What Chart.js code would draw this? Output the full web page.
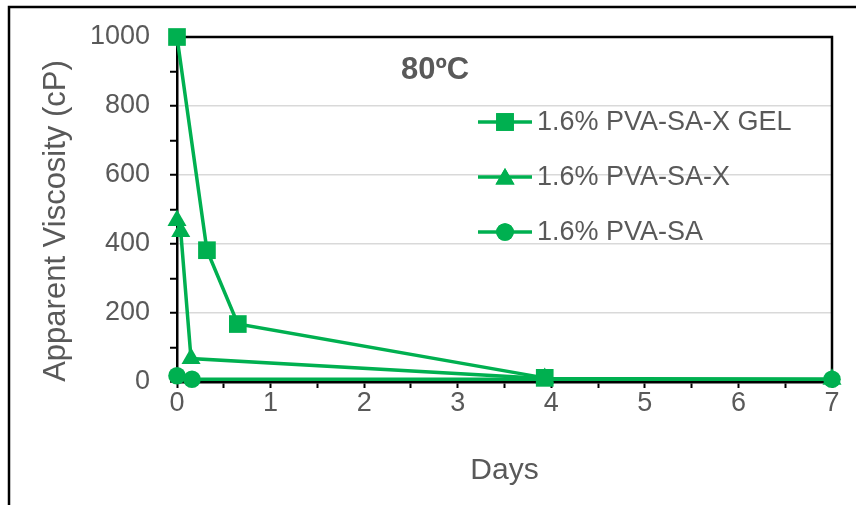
<!DOCTYPE html>
<html>
<head>
<meta charset="utf-8">
<script src="https://cdn.jsdelivr.net/npm/chart.js@4"></script>
<style>
  html, body { margin: 0; padding: 0; background: #fff; }
  #wrap { width: 856px; height: 505px; position: relative; }
</style>
</head>
<body>
<div id="wrap"><canvas id="chart" width="856" height="505"></canvas></div>
<script>
// Viscosity vs. time at 80 C
const gelDays = [0, 0.32, 0.65, 3.93];
const gelVisc = [1000, 382, 168, 12];

const xDays = [0, 0.04, 0.15, 3.93, 7];
const xVisc = [468, 436, 68, 10, 8];

const saDays = [0, 0.16, 7];
const saVisc = [18, 8, 8];

const seriesNames = ['1.6% PVA-SA-X GEL', '1.6% PVA-SA-X', '1.6% PVA-SA'];
const seriesMarkers = ['rect', 'triangle', 'circle'];
const chartTitle = '80ºC';
const yTitle = 'Apparent Viscosity (cP)';

const GREEN = '#00b050';
const TEXT = '#595959';
const FONT = "'Liberation Sans', Arial, sans-serif";

function toPoints(xs, ys) {
  return xs.map((x, i) => ({ x: x, y: ys[i] }));
}

function lineSet(label, xs, ys, marker, radius) {
  return {
    label: label,
    data: toPoints(xs, ys),
    showLine: true,
    borderColor: GREEN,
    backgroundColor: GREEN,
    borderWidth: 3.5,
    pointStyle: marker,
    pointRadius: radius,
    pointBorderWidth: 0,
    pointBackgroundColor: GREEN,
    tension: 0,
    clip: false
  };
}

// frame, titles and in-plot legend
const decor = {
  id: 'decor',
  beforeDraw(chart) {
    const ctx = chart.ctx;
    ctx.save();
    ctx.fillStyle = '#fff';
    ctx.fillRect(0, 0, chart.width, chart.height);
    ctx.strokeStyle = '#000';
    ctx.lineWidth = 2.5;
    ctx.beginPath();
    ctx.moveTo(9, chart.height);
    ctx.lineTo(9, 7);
    ctx.lineTo(chart.width, 7);
    ctx.stroke();

    // vertical axis title
    ctx.translate(56, 221);
    ctx.rotate(-Math.PI / 2);
    ctx.fillStyle = TEXT;
    ctx.font = '31px ' + FONT;
    ctx.textAlign = 'center';
    ctx.textBaseline = 'middle';
    ctx.fillText(yTitle, 0, 0);
    ctx.restore();
  },
  beforeDatasetsDraw(chart) {
    const { left, top, right, bottom } = chart.chartArea;
    const ctx = chart.ctx;
    ctx.save();
    ctx.strokeStyle = '#000';
    ctx.lineWidth = 2.5;
    ctx.beginPath();
    ctx.moveTo(left, top);
    ctx.lineTo(right, top);
    ctx.lineTo(right, bottom);
    ctx.stroke();
    ctx.restore();
  },
  afterDatasetsDraw(chart) {
    const ctx = chart.ctx;
    ctx.save();
    ctx.fillStyle = TEXT;
    ctx.font = 'bold 31px ' + FONT;
    ctx.textBaseline = 'middle';
    ctx.textAlign = 'left';
    ctx.fillText(chartTitle, 401, 70);

    const rows = [122, 177, 232];
    const radii = [12.5, 11, 8.8];
    seriesNames.forEach((name, i) => {
      const y = rows[i];
      ctx.strokeStyle = GREEN;
      ctx.lineWidth = 3.5;
      ctx.beginPath();
      ctx.moveTo(478, y);
      ctx.lineTo(532, y);
      ctx.stroke();
      ctx.fillStyle = GREEN;
      Chart.helpers.drawPoint(ctx, {
        pointStyle: seriesMarkers[i],
        radius: radii[i],
        rotation: 0,
        borderWidth: 0
      }, 505, seriesMarkers[i] === 'triangle' ? y + 2 : y);
      ctx.fill();
      ctx.fillStyle = TEXT;
      ctx.font = '27px ' + FONT;
      ctx.fillText(name, 537, y + 1);
    });
    ctx.restore();
  }
};

new Chart(document.getElementById('chart'), {
  type: 'scatter',
  data: {
    datasets: [
      lineSet(seriesNames[2], saDays, saVisc, 'circle', 8.8),
      lineSet(seriesNames[1], xDays, xVisc, 'triangle', 11),
      lineSet(seriesNames[0], gelDays, gelVisc, 'rect', 12.5)
    ]
  },
  options: {
    responsive: false,
    animation: false,
    layout: { padding: { top: 37, right: 24, left: 0, bottom: 0 } },
    plugins: {
      legend: { display: false },
      tooltip: { enabled: false }
    },
    scales: {
      x: {
        type: 'linear',
        min: 0,
        max: 7,
        afterFit(scale) { scale.height = 123; },
        border: { color: '#000', width: 2.5 },
        grid: {
          color: 'rgba(0,0,0,0)',
          tickColor: '#000',
          tickLength: 6,
          tickWidth: 2
        },
        ticks: {
          stepSize: 0.5,
          autoSkip: false,
          maxRotation: 0,
          padding: -1,
          color: TEXT,
          font: { family: FONT, size: 27 },
          callback: (v) => (Number.isInteger(v) ? v : '')
        },
        title: {
          display: true,
          text: 'Days',
          color: TEXT,
          font: { family: FONT, size: 30 },
          padding: { top: 0, bottom: 16 }
        }
      },
      y: {
        min: 0,
        max: 1000,
        afterFit(scale) { scale.width = 177; },
        border: { color: '#000', width: 2.5 },
        grid: {
          color: (c) => (c.tick && c.tick.value % 200 === 0 && c.tick.value > 0 && c.tick.value < 1000 ? '#d9d9d9' : 'rgba(0,0,0,0)'),
          lineWidth: 1.5,
          tickColor: '#000',
          tickLength: 7,
          tickWidth: 2
        },
        ticks: {
          stepSize: 100,
          autoSkip: false,
          padding: 20,
          color: TEXT,
          font: { family: FONT, size: 27 },
          callback: (v) => (v % 200 === 0 ? v : '')
        }
      }
    }
  },
  plugins: [decor]
});
</script>
</body>
</html>
